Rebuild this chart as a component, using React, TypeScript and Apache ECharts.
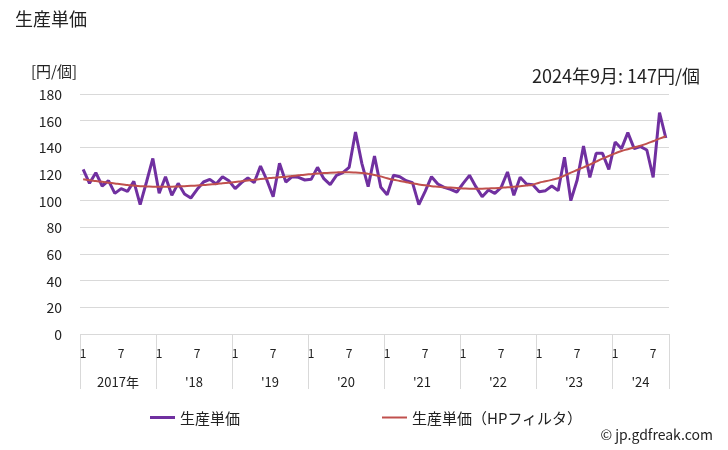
import React, { useEffect, useRef } from "react";
import * as echarts from "echarts";

const startYear = 2017;
const monthCounts = [12, 12, 12, 12, 12, 12, 12, 9];
const yearLabels = ["2017年", "'18", "'19", "'20", "'21", "'22", "'23", "'24"];

const unitPrice = [
  123.5, 113, 121, 111, 115, 105.5, 109, 107, 114.5, 97, 114, 131.7,
  105.5, 118, 104, 113, 105, 102, 108.5, 114, 116, 112.5, 118, 115,
  109, 113.5, 117, 113.5, 126, 115.5, 103, 128, 114, 118, 117.5, 115.5,
  116, 125, 116.5, 112, 119, 121, 125, 151.5, 128, 110.5, 133.5, 110,
  104.5, 119, 118, 115, 113.5, 97, 107, 118, 112.5, 110, 108.5, 106.5,
  113, 119, 110.5, 103, 108, 105.5, 110, 121.5, 104, 117.5, 112.5, 112,
  106.7, 107.5, 111, 107.5, 132.5, 100, 115.5, 141, 117.5, 135.5, 135.5, 123.5,
  144, 139, 151, 139, 140.5, 138, 117.5, 166, 147,
];

const hpTrend = [
  116, 115.3, 114.7, 114.1, 113.5, 112.9, 112.3, 111.8, 111.3, 110.9, 110.7, 110.5,
  110.5, 110.5, 110.5, 110.7, 110.9, 111.1, 111.4, 111.7, 112.1, 112.5, 113, 113.5,
  114, 114.6, 115.2, 115.7, 116.2, 116.7, 117.2, 117.6, 118, 118.5, 119, 119.5,
  119.9, 120.3, 120.7, 121, 121.2, 121.3, 121.3, 121.1, 120.7, 120.1, 119.3, 118.2,
  116.8, 115.7, 114.8, 113.8, 113, 112.2, 111.5, 110.9, 110.5, 110.1, 109.8, 109.5,
  109.2, 109, 109, 109, 109.2, 109.4, 109.7, 110, 110.4, 110.8, 111.3, 112,
  113.5, 114.5, 115.6, 116.8, 118.8, 121, 123, 125, 127, 129.3, 131.5, 133.5,
  135.5, 137.3, 138.6, 139.9, 141.2, 142.8, 144.6, 146.5, 148.3,
];

const yTicks = { min: 0, max: 180, interval: 20 };

const FONT = "'Noto Sans CJK JP', 'Noto Sans', sans-serif";

export default function App() {
  const ref = useRef<HTMLDivElement>(null);

  useEffect(() => {
    if (!ref.current) return;
    const chart = echarts.init(ref.current, null, { renderer: "svg" });

    const categories: string[] = [];
    monthCounts.forEach((n, yi) => {
      for (let m = 1; m <= n; m++) categories.push(`${startYear + yi}/${m}`);
    });
    const total = categories.length;

    const boundaries: number[] = [0];
    const centers: number[] = [];
    let acc = 0;
    monthCounts.forEach((n) => {
      centers.push(acc + n / 2);
      acc += n;
      boundaries.push(acc);
    });

    chart.setOption({
      animation: false,
      textStyle: { fontFamily: FONT },
      title: {
        text: "生産単価",
        left: 15,
        top: 9,
        padding: 0,
        textStyle: { fontSize: 18, fontWeight: "normal", color: "#222", fontFamily: FONT },
      },
      graphic: [
        {
          type: "text",
          right: 28,
          top: 66,
          style: {
            text: "2024年9月: 147円/個",
            fontSize: 18,
            fill: "#222",
            fontFamily: FONT,
          },
        },
        {
          type: "text",
          right: 15,
          top: 427,
          style: {
            text: "© jp.gdfreak.com",
            fontSize: 14,
            fill: "#222",
            fontFamily: FONT,
          },
        },
      ],
      legend: {
        bottom: 20,
        left: 145,
        itemWidth: 25,
        itemHeight: 10,
        itemGap: 142,
        textStyle: { fontSize: 15, color: "#222", fontFamily: FONT },
        data: [
          { name: "生産単価", icon: "path://M0,0 L25,0 L25,3 L0,3 Z" },
          { name: "生産単価（HPフィルタ）", icon: "path://M0,0 L25,0 L25,2 L0,2 Z" },
        ],
      },
      grid: { left: 80, right: 59, top: 94, bottom: 116, containLabel: false },
      xAxis: [
        {
          type: "category",
          data: categories,
          boundaryGap: true,
          axisLine: { show: false },
          axisTick: { show: false },
          axisLabel: {
            interval: 0,
            margin: 12,
            fontSize: 12,
            color: "#222",
            formatter: (v: string) => {
              const m = Number(v.split("/")[1]);
              return m === 1 || m === 7 ? String(m) : "";
            },
          },
        },
        {
          type: "value",
          position: "bottom",
          min: 0,
          max: total,
          axisLine: { show: false },
          splitLine: { show: false },
          axisTick: {
            show: true,
            customValues: boundaries,
            length: 55,
            lineStyle: { color: "#d9d9d9", width: 1 },
          },
          axisLabel: {
            customValues: centers,
            margin: 41,
            fontSize: 13,
            color: "#222",
            formatter: (v: number) => {
              const i = centers.findIndex((c) => Math.abs(c - v) < 0.01);
              return i >= 0 ? yearLabels[i] : "";
            },
          },
        },
      ],
      yAxis: {
        type: "value",
        min: yTicks.min,
        max: yTicks.max,
        interval: yTicks.interval,
        name: "[円/個]",
        nameLocation: "end",
        nameGap: 16,
        nameTextStyle: { fontSize: 15, color: "#222", align: "right", padding: [0, 3, 0, 0], fontFamily: FONT },
        axisLine: { show: false },
        axisTick: { show: false },
        axisLabel: { margin: 18, fontSize: 14, color: "#222" },
        splitLine: { lineStyle: { color: "#d9d9d9", width: 1 } },
      },
      series: [
        {
          name: "生産単価",
          type: "line",
          data: unitPrice,
          symbol: "none",
          lineStyle: { color: "#7030a0", width: 3 },
          itemStyle: { color: "#7030a0" },
        },
        {
          name: "生産単価（HPフィルタ）",
          type: "line",
          data: hpTrend,
          symbol: "none",
          smooth: true,
          lineStyle: { color: "#c0504d", width: 2 },
          itemStyle: { color: "#c0504d" },
        },
      ],
    });

    return () => chart.dispose();
  }, []);

  return (
    <div
      ref={ref}
      style={{ position: "fixed", left: 0, top: 0, width: 728, height: 450 }}
    />
  );
}
